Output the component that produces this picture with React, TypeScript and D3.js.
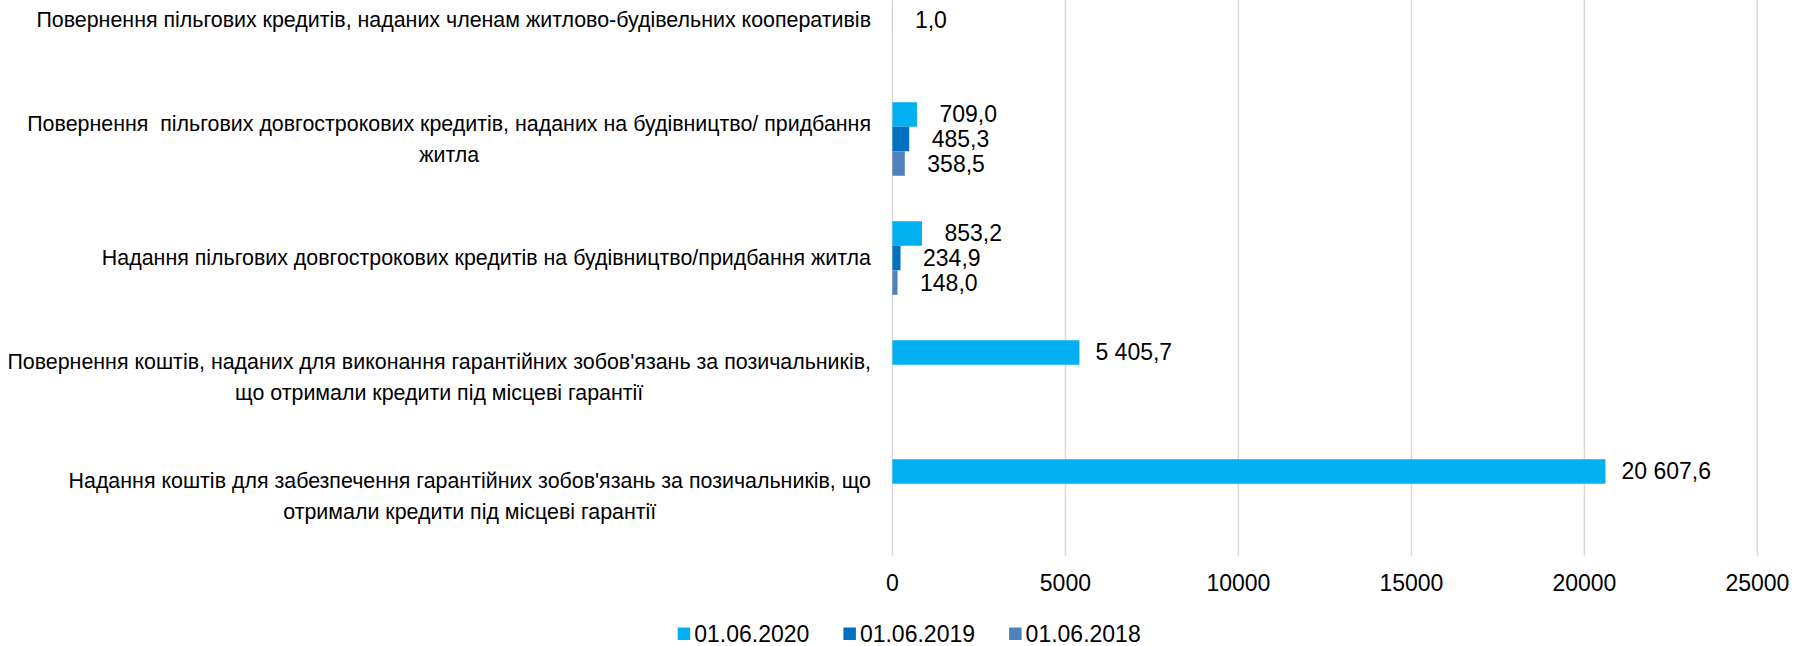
import React, { useEffect, useRef } from "react";
import * as d3 from "d3";

const categories: string[][] = [
  ["Повернення пільгових кредитів, наданих членам житлово-будівельних кооперативів"],
  ["Повернення  пільгових довгострокових кредитів, наданих на будівництво/ придбання", "житла"],
  ["Надання пільгових довгострокових кредитів на будівництво/придбання житла"],
  ["Повернення коштів, наданих для виконання гарантійних зобов'язань за позичальників,", "що отримали кредити під місцеві гарантії"],
  ["Надання коштів для забезпечення гарантійних зобов'язань за позичальників, що", "отримали кредити під місцеві гарантії"],
];
const seriesNames = ["01.06.2020", "01.06.2019", "01.06.2018"];
const seriesColors = ["#00B0F0", "#0070C0", "#4F81BD"];
const values2020: (number | null)[] = [null, 709.0, 853.2, 5405.7, 20607.6];
const values2019: (number | null)[] = [1.0, 485.3, 234.9, null, null];
const values2018: (number | null)[] = [null, 358.5, 148.0, null, null];
const xTicks = [0, 5000, 10000, 15000, 20000, 25000];

const W = 1797;
const H = 646;

export default function App() {
  const ref = useRef<SVGSVGElement | null>(null);

  useEffect(() => {
    const svg = d3.select(ref.current);
    svg.selectAll("*").remove();
    const font = "'Liberation Sans', Arial, sans-serif";

    const x = d3.scaleLinear().domain([0, 25000]).range([892.4, 1757.4]);
    const ids = categories.map((_, i) => String(i));
    const y = d3.scaleBand<string>().domain(ids).range([-39.5, 555.5]).paddingInner(0.382).paddingOuter(0.191);
    const ys = d3.scaleBand<string>().domain(seriesNames).range([0, y.bandwidth()]);
    const allSeries = [values2020, values2019, values2018];

    // gridlines
    svg.append("g").selectAll("line").data(xTicks).join("line")
      .attr("x1", (d) => x(d)).attr("x2", (d) => x(d))
      .attr("y1", -39.5).attr("y2", 555.5)
      .attr("stroke", "#D9D9D9").attr("stroke-width", 1.5);

    // tick labels
    svg.append("g").selectAll("text").data(xTicks).join("text")
      .attr("x", (d) => x(d)).attr("y", 583)
      .attr("text-anchor", "middle").attr("dominant-baseline", "central")
      .attr("font-family", font).attr("font-size", 23).attr("fill", "#000")
      .text((d) => String(d));

    const loc = d3.formatLocale({ decimal: ",", thousands: " ", grouping: [3], currency: ["", ""] });
    const fmt = loc.format(",.1f");

    // bars + labels
    allSeries.forEach((vals, si) => {
      const g = svg.append("g");
      vals.forEach((v, ci) => {
        if (v === null) return;
        const y0 = (y(String(ci)) as number) + (ys(seriesNames[si]) as number);
        g.append("rect")
          .attr("x", x(0)).attr("y", y0)
          .attr("width", Math.max(0, x(v) - x(0))).attr("height", ys.bandwidth())
          .attr("fill", seriesColors[si]);
        g.append("text")
          .attr("x", x(v) + (v < 1000 ? 22.5 : 16))
          .attr("y", y0 + ys.bandwidth() / 2)
          .attr("dominant-baseline", "central")
          .attr("font-family", font).attr("font-size", 23).attr("fill", "#000")
          .text(fmt(v));
      });
    });

    // category labels
    const rightEdge = 871;
    const lineH = 31;
    categories.forEach((lines, ci) => {
      const cy = (y(String(ci)) as number) + y.bandwidth() / 2;
      const g = svg.append("g");
      const texts = lines.map((ln, li) =>
        g.append("text")
          .attr("y", cy + (li - (lines.length - 1) / 2) * lineH)
          .attr("dominant-baseline", "central")
          .attr("text-anchor", "middle")
          .attr("font-family", font).attr("font-size", 21.4).attr("fill", "#000")
          .style("white-space", "pre")
          .text(ln)
      );
      const maxW = d3.max(texts, (t) => (t.node() as SVGTextElement).getComputedTextLength()) || 0;
      texts.forEach((t) => t.attr("x", rightEdge - maxW / 2));
    });

    // legend
    const legX0 = 677.7;
    const step = 165.7;
    seriesNames.forEach((name, i) => {
      const lx = legX0 + i * step;
      svg.append("rect").attr("x", lx).attr("y", 627.5).attr("width", 12.5).attr("height", 12.5)
        .attr("fill", seriesColors[i]);
      svg.append("text").attr("x", lx + 16.5).attr("y", 633.5)
        .attr("dominant-baseline", "central")
        .attr("font-family", font).attr("font-size", 23).attr("fill", "#000")
        .text(name);
    });
  }, []);

  return (
    <svg
      ref={ref}
      width={W}
      height={H}
      style={{ position: "absolute", left: 0, top: 0, background: "#fff" }}
    />
  );
}
